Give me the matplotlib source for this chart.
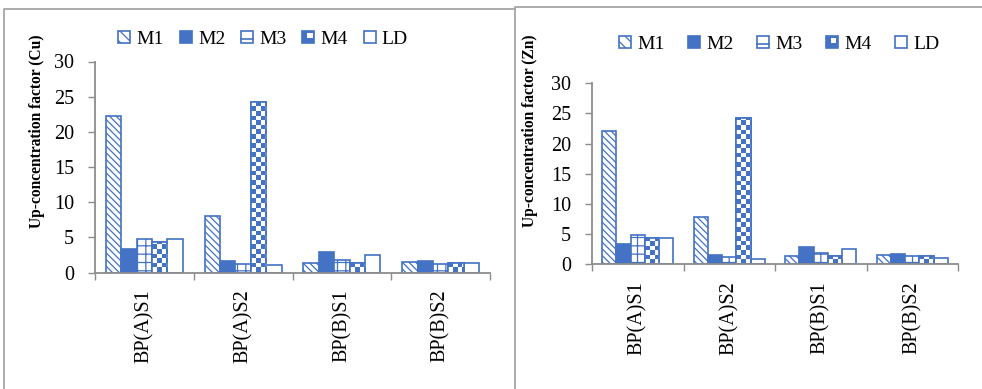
import numpy as np
import matplotlib
matplotlib.use("Agg")
import matplotlib.pyplot as plt
from matplotlib.patches import Patch, Rectangle
from matplotlib.lines import Line2D

plt.rcParams["font.family"] = ["Liberation Serif", "DejaVu Serif"]
plt.rcParams["hatch.linewidth"] = 0.9

# ---- data ----
samples = ["BP(A)S1", "BP(A)S2", "BP(B)S1", "BP(B)S2"]
series = ["M1", "M2", "M3", "M4", "LD"]

cu_m1 = [22.2, 8.0, 1.4, 1.5]
cu_m2 = [3.4, 1.6, 2.9, 1.6]
cu_m3 = [4.8, 1.2, 1.8, 1.2]
cu_m4 = [4.4, 24.3, 1.4, 1.4]
cu_ld = [4.8, 1.0, 2.5, 1.3]

zn_m1 = [22.1, 7.9, 1.4, 1.5]
zn_m2 = [3.4, 1.6, 2.9, 1.7]
zn_m3 = [4.8, 1.2, 1.8, 1.3]
zn_m4 = [4.3, 24.2, 1.3, 1.3]
zn_ld = [4.4, 0.8, 2.5, 1.1]

yticks = [0, 5, 10, 15, 20, 25, 30]

BLUE = "#4472C4"
AXIS_GREY = "#8C8C8C"
FRAME_GREY = "#A6A6A6"

styles = {
    "M1": dict(facecolor="white", hatch="\\\\\\\\\\"),
    "M2": dict(facecolor=BLUE, hatch=None),
    "M3": dict(facecolor="white", hatch="++"),
    "M4": dict(facecolor="white", hatch=None),
    "LD": dict(facecolor="white", hatch=None),
}

W, H = 982, 389
fig = plt.figure(figsize=(W / 100, H / 100), dpi=100)


class IconHandler:
    """Square legend icons for every series."""

    def legend_artist(self, legend, orig_handle, fontsize, handlebox):
        w = h = 0.62 * fontsize
        x0 = -handlebox.xdescent + (handlebox.width - w) / 2
        y0 = -handlebox.ydescent + (handlebox.height - h) / 2
        tr = handlebox.get_transform()
        kind = orig_handle
        face = BLUE if kind in ("M2", "M4") else "white"
        hatch = "\\\\\\" if kind == "M1" else None
        box = Rectangle((x0, y0), w, h, facecolor=face, edgecolor=BLUE,
                        linewidth=1.2, hatch=hatch, transform=tr)
        handlebox.add_artist(box)
        if kind == "M3":
            handlebox.add_artist(Line2D([x0, x0 + w], [y0 + 0.28 * h] * 2,
                                        color=BLUE, linewidth=1.2, transform=tr))
        elif kind == "M4":
            handlebox.add_artist(Rectangle((x0 + 0.42 * w, y0 + 0.42 * h), 0.42 * w,
                                           0.42 * h, facecolor="white",
                                           edgecolor="none", transform=tr))
        return box


def checker_fill(ax, bar, cell_px=4.6):
    """Fill a bar with a blue/white checkerboard clipped to its outline."""
    x0, y0 = bar.get_x(), bar.get_y()
    w, h = bar.get_width(), bar.get_height()
    (px0, py0), (px1, py1) = ax.transData.transform([(x0, y0), (x0 + w, y0 + h)])
    nx = int(np.ceil((px1 - px0) / cell_px)) + 1
    ny = int(np.ceil((py1 - py0) / cell_px)) + 1
    cw = w / ((px1 - px0) / cell_px)
    ch = h / ((py1 - py0) / cell_px)
    ii, jj = np.indices((ny, nx))
    board = (ii + jj) % 2
    cmap = matplotlib.colors.ListedColormap(["white", BLUE])
    im = ax.imshow(board, cmap=cmap, origin="lower", interpolation="nearest",
                   extent=(x0, x0 + nx * cw, y0, y0 + ny * ch), aspect="auto",
                   zorder=bar.get_zorder() + 0.1)
    im.set_clip_path(bar)
    # outline on top of the checkerboard
    ax.add_patch(Rectangle((x0, y0), w, h, facecolor="none", edgecolor=BLUE,
                           linewidth=1.2, zorder=bar.get_zorder() + 0.2))


def draw_panel(rect, values, ylabel, ylabel_x, legend_xy, colspace):
    ax = fig.add_axes(rect)
    n = len(samples)
    x = np.arange(n)
    bw = 0.156
    offsets = (np.arange(len(series)) - 2) * bw
    ax.set_xlim(-0.5, n - 0.5)
    ax.set_ylim(0, 30)
    for name, vals, off in zip(series, values, offsets):
        st = styles[name]
        bars = ax.bar(x + off, vals, bw, facecolor=st["facecolor"], edgecolor=BLUE,
                      hatch=st["hatch"], linewidth=1.2, zorder=2)
        if name == "M4":
            for b in bars:
                checker_fill(ax, b)

    for s in ("top", "right"):
        ax.spines[s].set_visible(False)
    for s in ("left", "bottom"):
        ax.spines[s].set_color(AXIS_GREY)
        ax.spines[s].set_linewidth(1.3)
    ax.set_yticks(yticks)
    ax.tick_params(axis="y", direction="out", length=5, width=1, color=AXIS_GREY,
                   labelsize=14.5, pad=10)
    # group separators as major ticks, sample names at group centres
    ax.set_xticks(np.arange(n + 1) - 0.5)
    ax.set_xticklabels([])
    ax.tick_params(axis="x", which="major", direction="out", length=5, width=1,
                   color=AXIS_GREY)
    ax.set_xticks(x, minor=True)
    ax.set_xticklabels(samples, minor=True, rotation=90, fontsize=14.5)
    ax.tick_params(axis="x", which="minor", length=0, pad=12)

    fig.text(ylabel_x, 1 - 131 / H, ylabel, rotation=90,
             ha="center", va="center", fontsize=11.2, fontweight="bold")

    fig.legend(series, series, loc="center", bbox_to_anchor=legend_xy,
               ncol=5, frameon=False, fontsize=14, handlelength=0.65,
               handleheight=0.65, handletextpad=0.3, columnspacing=colspace,
               borderaxespad=0, handler_map={str: IconHandler()})
    return ax


# panel frames
for xs, ys in [([4, 4, 515], [389, 9, 9]), ([515, 515, 982], [389, 7, 7])]:
    fig.add_artist(Line2D(np.array(xs) / W, 1 - np.array(ys) / H,
                          transform=fig.transFigure, color=FRAME_GREY, linewidth=1.3))

draw_panel([95 / W, 1 - 272.5 / H, 395 / W, 211 / H],
           [cu_m1, cu_m2, cu_m3, cu_m4, cu_ld],
           "Up-concentration factor (Cu)", 37.5 / W, (263 / W, 1 - 39 / H), 0.8)
draw_panel([592 / W, 1 - 264.3 / H, 366 / W, 181 / H],
           [zn_m1, zn_m2, zn_m3, zn_m4, zn_ld],
           "Up-concentration factor (Zn)", 530 / W, (779 / W, 1 - 44 / H), 1.2)

fig.savefig("out.png", dpi=100)
